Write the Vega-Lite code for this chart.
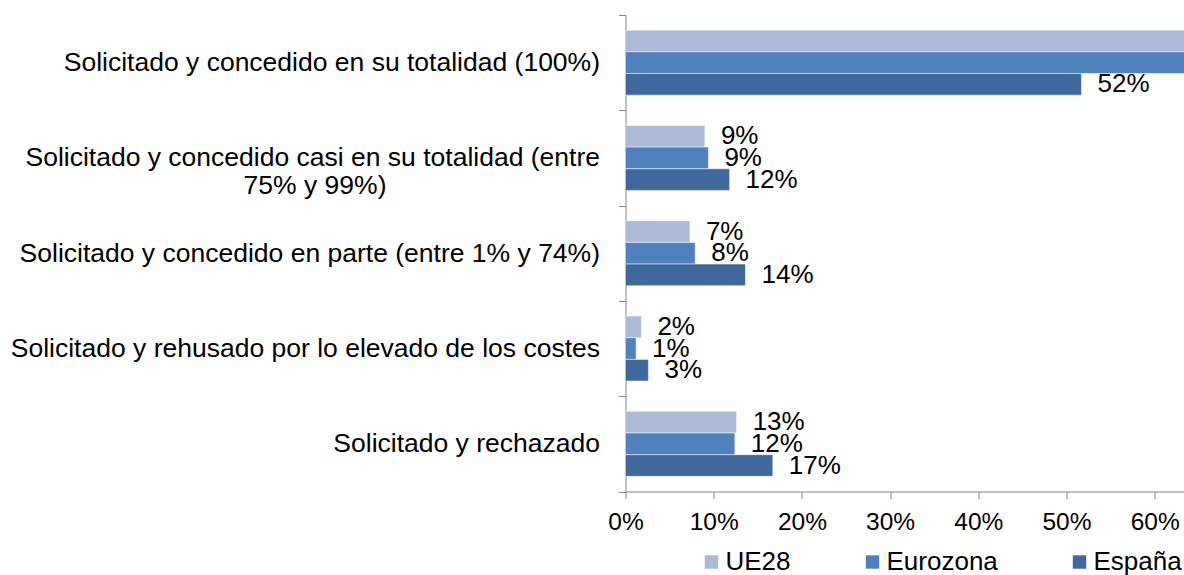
{
  "$schema": "https://vega.github.io/schema/vega-lite/v6.json",
  "autosize": {"type": "none"},
  "padding": {"left": 625.5, "top": 15, "right": 0, "bottom": 83.5},
  "width": 558.5,
  "height": 476.5,
  "background": "white",
  "config": {
    "view": {"stroke": null},
    "font": "Liberation Sans",
    "axis": {"domainColor": "#868686", "tickColor": "#868686", "labelColor": "#000000", "grid": false, "title": null, "labelFont": "Liberation Sans"},
    "legend": {"labelFont": "Liberation Sans", "labelColor": "#000000"}
  },
  "data": {
    "values": [
      {"cat": "Solicitado y concedido en su totalidad (100%)", "serie": "UE28", "v": 0.68},
      {"cat": "Solicitado y concedido en su totalidad (100%)", "serie": "Eurozona", "v": 0.70},
      {"cat": "Solicitado y concedido en su totalidad (100%)", "serie": "España", "v": 0.517},
      {"cat": "Solicitado y concedido casi en su totalidad (entre 75% y 99%)", "serie": "UE28", "v": 0.09},
      {"cat": "Solicitado y concedido casi en su totalidad (entre 75% y 99%)", "serie": "Eurozona", "v": 0.094},
      {"cat": "Solicitado y concedido casi en su totalidad (entre 75% y 99%)", "serie": "España", "v": 0.118},
      {"cat": "Solicitado y concedido en parte (entre 1% y 74%)", "serie": "UE28", "v": 0.073},
      {"cat": "Solicitado y concedido en parte (entre 1% y 74%)", "serie": "Eurozona", "v": 0.079},
      {"cat": "Solicitado y concedido en parte (entre 1% y 74%)", "serie": "España", "v": 0.136},
      {"cat": "Solicitado y rehusado por lo elevado de los costes", "serie": "UE28", "v": 0.018},
      {"cat": "Solicitado y rehusado por lo elevado de los costes", "serie": "Eurozona", "v": 0.012},
      {"cat": "Solicitado y rehusado por lo elevado de los costes", "serie": "España", "v": 0.026},
      {"cat": "Solicitado y rechazado", "serie": "UE28", "v": 0.126},
      {"cat": "Solicitado y rechazado", "serie": "Eurozona", "v": 0.124},
      {"cat": "Solicitado y rechazado", "serie": "España", "v": 0.167}
    ]
  },
  "encoding": {
    "y": {
      "field": "cat", "type": "nominal", "sort": null,
      "scale": {"paddingInner": 0, "paddingOuter": 0},
      "axis": {
        "tickBand": "extent", "tickSize": 7, "labelPadding": 19, "labelFontSize": 26.5, "labelLimit": 700, "labelLineHeight": 28,
        "labelExpr": "datum.value == 'Solicitado y concedido casi en su totalidad (entre 75% y 99%)' ? ['Solicitado y concedido casi en su totalidad (entre', '75% y 99%)\u00a0\u00a0\u00a0\u00a0\u00a0\u00a0\u00a0\u00a0\u00a0\u00a0\u00a0\u00a0\u00a0\u00a0\u00a0\u00a0\u00a0\u00a0\u00a0\u00a0\u00a0\u00a0\u00a0\u00a0\u00a0\u00a0\u00a0\u00a0\u00a0\u200b'] : datum.value"
      }
    },
    "yOffset": {"field": "serie", "type": "nominal", "sort": ["UE28", "Eurozona", "España"], "scale": {"paddingInner": 0, "paddingOuter": 0.7}},
    "x": {
      "field": "v", "type": "quantitative",
      "scale": {"domain": [0, 0.6332], "nice": false},
      "axis": {"format": ".0%", "values": [0, 0.1, 0.2, 0.3, 0.4, 0.5, 0.6], "tickSize": 7, "labelPadding": 12, "labelFontSize": 24.5, "labelFlush": false}
    }
  },
  "layer": [
    {
      "mark": {"type": "bar", "clip": true, "stroke": "#ffffff", "strokeWidth": 1, "strokeOpacity": 0.5},
      "encoding": {
        "color": {
          "field": "serie", "type": "nominal",
          "scale": {"domain": ["UE28", "Eurozona", "España"], "range": ["#AABAD7", "#4F81BD", "#3F699C"]},
          "legend": {
            "title": null, "orient": "none", "legendX": 73, "legendY": 534, "direction": "horizontal",
            "symbolType": "square", "symbolSize": 180, "symbolStrokeWidth": 0, "labelFontSize": 26, "labelOffset": 1, "columnPadding": 68
          }
        }
      }
    },
    {
      "transform": [{"filter": "datum.v <= 0.6332"}],
      "mark": {"type": "text", "clip": true, "align": "left", "baseline": "middle", "dx": 16, "fontSize": 26, "color": "#000000"},
      "encoding": {"text": {"field": "v", "type": "quantitative", "format": ".0%"}}
    }
  ]
}
